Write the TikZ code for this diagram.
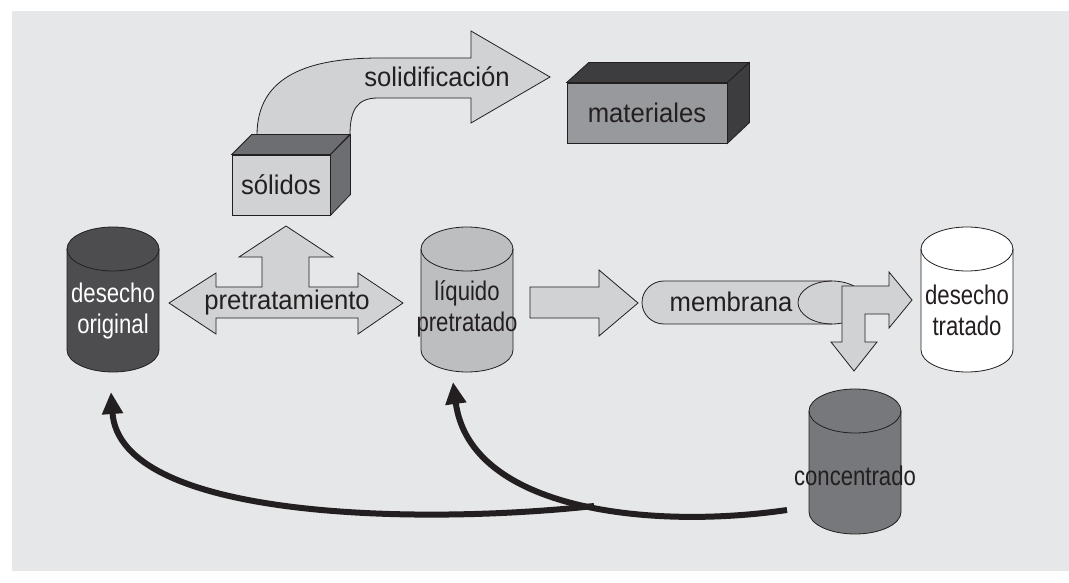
\documentclass[tikz,border=0pt]{standalone}
\usepackage{fontspec}
\setmainfont{Liberation Sans}
\newfontfamily\labelfont[FakeStretch=0.95]{Liberation Sans}
\newfontfamily\tankfont[FakeStretch=0.82]{Liberation Sans}
\usetikzlibrary{arrows.meta}

\definecolor{panel}{HTML}{E6E7E8}
\definecolor{ink}{HTML}{231F20}
\definecolor{pale}{HTML}{D1D2D4}
\definecolor{rawwaste}{HTML}{4D4D4F}
\definecolor{liquid}{HTML}{BCBEC0}
\definecolor{brine}{HTML}{77787B}
\definecolor{solidface}{HTML}{6D6E71}
\definecolor{matfront}{HTML}{98999C}
\definecolor{matface}{HTML}{3D3D3F}

% upright tank: centre x, top y, fill colour
\newcommand{\tank}[3]{%
        \draw[tank, fill=#3] ({#1-46},#2) -- ({#1-46},{#2+101}) arc[start angle=180, end angle=360, x radius=46pt, y radius=22pt]
                -- ({#1+46},#2) arc[start angle=0, end angle=180, x radius=46pt, y radius=22pt] -- cycle;
        \draw[tank] ({#1-46},#2) arc[start angle=180, end angle=360, x radius=46pt, y radius=22pt];
}

\begin{document}
\begin{tikzpicture}[x=1pt, y=-1pt,
        tank/.style={draw=ink, line width=0.8pt},
        block/.style={draw=ink, line width=0.8pt, fill=pale},
        lbl/.style={font=\labelfont\fontsize{27pt}{31pt}\selectfont, text=ink, inner sep=0pt},
        tanklbl/.style={font=\tankfont\fontsize{27pt}{31pt}\selectfont, text=ink, align=center, inner sep=0pt},
        ret/.style={draw=ink, line width=6pt, -{Triangle[length=22pt, width=20pt]}}]
        \useasboundingbox (0,0) rectangle (1069,583);
        \fill[white] (0,0) rectangle (1069,583);
        \fill[panel] (12,11) rectangle (1069,571);

        \draw[block] (257,135) .. controls (257,75) and (310,58) .. (380,58) -- (471,58) -- (471,31) -- (550,77)
                -- (471,123) -- (471,98) -- (378,98) .. controls (357,98) and (350,110) .. (350,135) -- cycle;
        \node[lbl] (solid) at (437,77) {solidificación};

        \node[block, minimum width=98pt, minimum height=60pt, lbl] (sol) at (281,185) {sólidos};
        \draw[block, fill=solidface] (sol.north west) -- ++(20,-20) -- ++(98,0) -- (sol.north east) -- cycle;
        \draw[block, fill=solidface] (sol.north east) -- ++(20,-20) -- ++(0,60) -- (sol.south east) -- cycle;

        \node[block, fill=matfront, minimum width=160pt, minimum height=60pt, lbl] (mat) at (647,113) {materiales};
        \draw[block, fill=matface] (mat.north west) -- ++(22,-20) -- ++(160,0) -- (mat.north east) -- cycle;
        \draw[block, fill=matface] (mat.north east) -- ++(22,-20) -- ++(0,60) -- (mat.south east) -- cycle;

        \draw[block] (169,303) -- (216,273) -- (216,287) -- (262,287) -- (262,257) -- (239,257) -- (286,226) -- (333,257)
                -- (309,257) -- (309,287) -- (358,287) -- (358,273) -- (403,303) -- (358,334) -- (358,318) -- (216,318)
                -- (216,334) -- cycle;
        \node[lbl] (pre) at (287,303) {pretratamiento};

        \tank{113}{249}{rawwaste}
        \tank{467}{249}{liquid}
        \tank{967}{249}{white}
        \tank{855}{411}{brine}
        \node[tanklbl, text=white] (orig) at (113,311) {desecho\\original};
        \node[tanklbl] (liq) at (467,309) {líquido\\pretratado};
        \node[tanklbl] (done) at (967,310) {desecho\\tratado};
        \node[tanklbl] (conc) at (855,476) {concentrado};

        \draw[block] (530,287) -- (599,287) -- (599,270) -- (638,303) -- (599,336) -- (599,318) -- (530,318) -- cycle;

        \draw[block] (664,281) -- (832,281) arc[start angle=90, end angle=-90, x radius=34pt, y radius=21.5pt]
                -- (664,324) arc[start angle=270, end angle=90, x radius=22pt, y radius=21.5pt] -- cycle;
        \draw[block, fill=none] (832,281) arc[start angle=90, end angle=270, x radius=34pt, y radius=21.5pt];
        \node[lbl] (mem) at (731,302) {membrana};

        \draw[block] (842,286) -- (889,286) -- (889,272) -- (912,300) -- (889,328) -- (889,314) -- (865,314) -- (865,342)
                -- (877,342) -- (854,371) -- (831,342) -- (842,342) -- cycle;

        \coordinate (back) at (787,510);
        \coordinate (split) at (594,506);
        \coordinate (liq-in) at (453,382);
        \coordinate (orig-in) at (111,392);
        \draw[ret] (back) .. controls (650,530) and (470,510) .. (liq-in);
        \draw[ret] (split) .. controls (420,525) and (120,520) .. (orig-in);
\end{tikzpicture}
\end{document}
